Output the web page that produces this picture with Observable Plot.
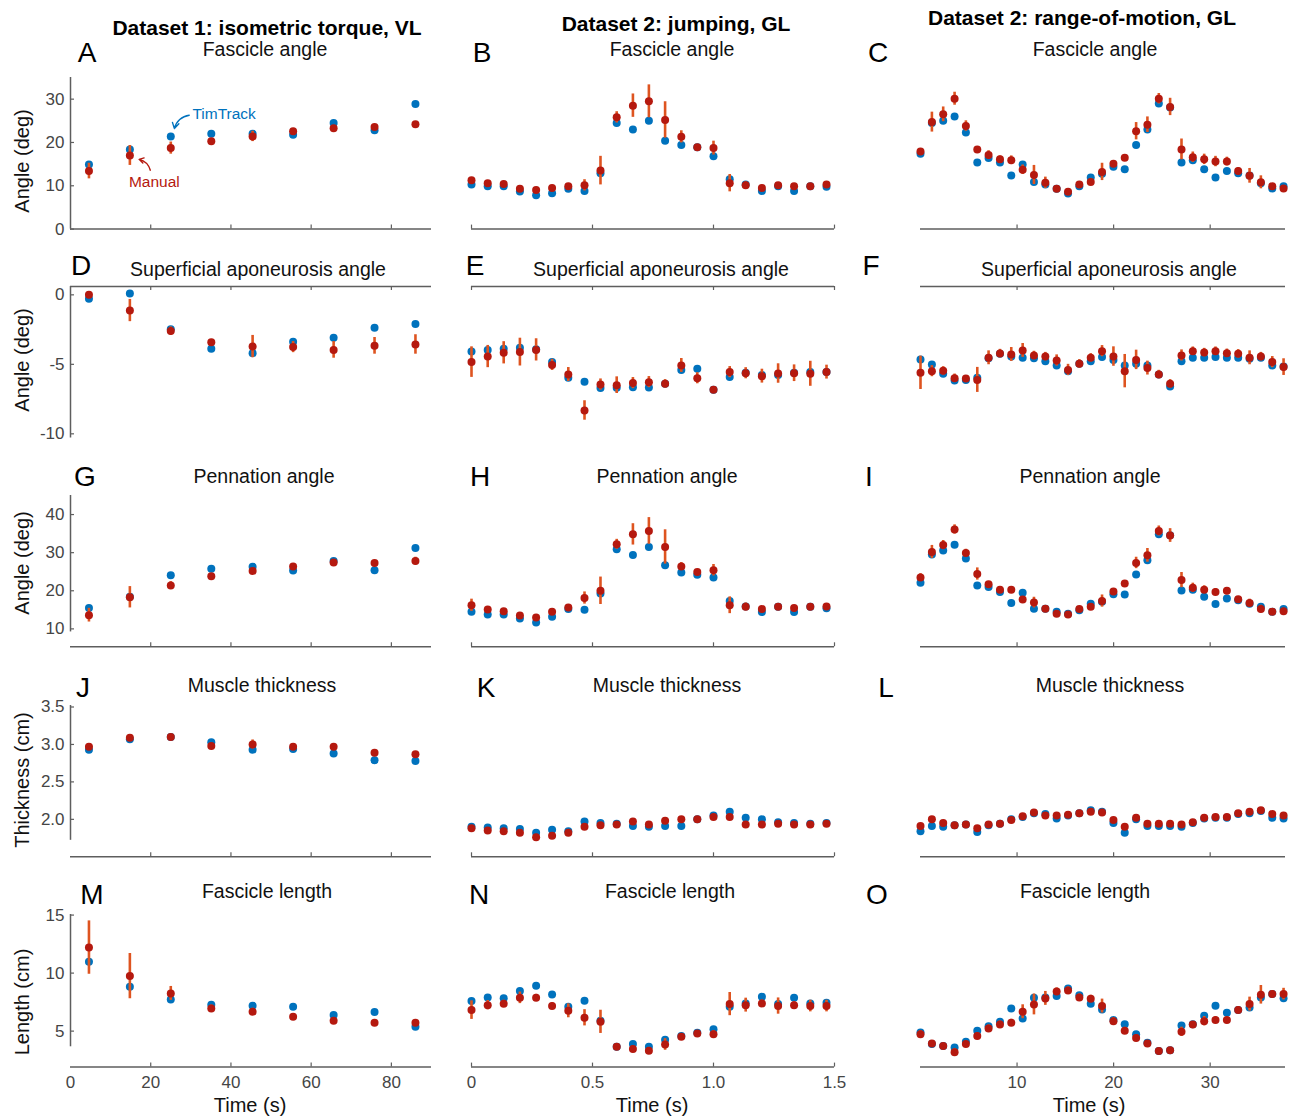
<!DOCTYPE html>
<html><head><meta charset="utf-8">
<script src="https://cdn.jsdelivr.net/npm/d3@7"></script>
<script src="https://cdn.jsdelivr.net/npm/@observablehq/plot@0.6"></script>
<style>
body{margin:0;background:#fff;font-family:"Liberation Sans",Arial,Helvetica,sans-serif;}
#fig{position:relative;width:1298px;height:1118px;overflow:hidden;background:#fff;}
.t{position:absolute;transform:translate(-50%,-50%);white-space:nowrap;color:#000;line-height:1;}
.hdr{font-weight:bold;font-size:21px;}
.sub{font-size:19.5px;color:#111;}
.let{font-size:28px;}
.yl{font-size:20px;transform:translate(-50%,-50%) rotate(-90deg);color:#111;}
.xl{font-size:20px;color:#111;}
</style></head><body><div id="fig"></div>
<script>
// ---------------- data ----------------
const timeVL = [4.6, 14.8, 25.0, 35.1, 45.4, 55.5, 65.6, 75.8, 86.0];
const timeJump = [0, 0.067, 0.133, 0.2, 0.267, 0.333, 0.4, 0.467, 0.533, 0.6, 0.667, 0.733, 0.8, 0.867, 0.933, 1.0, 1.067, 1.133, 1.2, 1.267, 1.333, 1.4, 1.467];
const timeROM = [0, 1.18, 2.35, 3.53, 4.70, 5.88, 7.05, 8.23, 9.40, 10.58, 11.75, 12.93, 14.10, 15.28, 16.45, 17.63, 18.80, 19.98, 21.15, 22.33, 23.50, 24.68, 25.85, 27.03, 28.20, 29.38, 30.55, 31.73, 32.90, 34.08, 35.25, 36.43, 37.60];

const columnTitles = ["Dataset 1: isometric torque, VL", "Dataset 2: jumping, GL", "Dataset 2: range-of-motion, GL"];
const rowTitles = ["Fascicle angle", "Superficial aponeurosis angle", "Pennation angle", "Muscle thickness", "Fascicle length"];
const rowLabels = ["Angle (deg)", "Angle (deg)", "Angle (deg)", "Thickness (cm)", "Length (cm)"];
const panelLetters = [["A","B","C"],["D","E","F"],["G","H","I"],["J","K","L"],["M","N","O"]];
const seriesNames = ["TimTrack", "Manual"];

// A: fascicle angle, VL
const A_tim = [14.9, 18.4, 21.4, 22.0, 22.0, 21.8, 24.5, 22.8, 28.9];
const A_man = [13.4, 17.0, 18.7, 20.3, 21.4, 22.6, 23.3, 23.6, 24.2];
const A_err = [1.8, 2.3, 1.4, 0.5, 1.2, 0.4, 0.6, 0.5, 0.4];
// B
const B_tim = [10.3, 9.9, 9.9, 8.7, 7.8, 8.3, 9.3, 8.8, 12.9, 24.5, 23.0, 25.0, 20.4, 19.4, 18.9, 16.8, 11.5, 10.3, 8.8, 9.9, 8.8, 9.9, 9.8];
const B_man = [11.3, 10.6, 10.4, 9.3, 9.0, 9.5, 9.9, 10.1, 13.5, 25.8, 28.5, 29.5, 25.2, 21.3, 18.9, 18.7, 10.6, 10.1, 9.5, 10.1, 9.9, 9.9, 10.3];
const B_err = [0.5, 0.4, 0.4, 0.5, 0.5, 0.5, 0.5, 1.3, 3.3, 1.3, 2.7, 3.8, 4.2, 1.4, 0.5, 1.6, 2.0, 0.8, 0.4, 0.4, 0.4, 0.3, 0.4];
// C
const C_tim = [17.4, 24.5, 25.0, 26.0, 22.3, 15.4, 16.4, 15.4, 12.4, 14.9, 10.9, 10.3, 9.3, 8.2, 9.9, 11.9, 12.8, 14.4, 13.8, 19.4, 23.0, 29.0, 28.1, 15.4, 15.9, 13.8, 11.9, 13.4, 12.9, 12.4, 10.6, 9.4, 9.9];
const C_man = [17.9, 24.7, 26.5, 30.1, 23.8, 18.4, 17.1, 16.1, 15.9, 13.7, 12.5, 10.7, 9.3, 8.6, 10.3, 10.9, 13.2, 15.1, 16.5, 22.6, 24.1, 30.1, 28.2, 18.4, 16.6, 16.1, 15.6, 15.6, 13.4, 12.3, 10.8, 9.9, 9.4];
const C_err = [0.4, 2.3, 1.7, 1.5, 1.2, 0.5, 1.0, 0.8, 1.0, 1.1, 2.2, 1.3, 0.3, 0.3, 0.4, 0.8, 2.0, 0.7, 0.5, 2.0, 1.8, 1.2, 2.0, 2.4, 1.2, 1.2, 1.2, 1.0, 0.8, 1.7, 1.5, 0.5, 0.4];
// D: superficial aponeurosis angle
const D_tim = [-0.29, 0.1, -2.47, -3.88, -4.2, -3.38, -3.09, -2.37, -2.09];
const D_man = [0.0, -1.13, -2.61, -3.41, -3.72, -3.76, -3.96, -3.67, -3.57];
const D_err = [0.2, 0.8, 0.3, 0.2, 0.8, 0.4, 0.6, 0.6, 0.7];
// E
const E_tim = [-4.08, -3.96, -3.88, -3.81, -3.91, -4.84, -5.97, -6.26, -6.71, -6.69, -6.64, -6.67, -6.40, -5.40, -5.32, -6.83, -5.92, -5.61, -5.76, -5.76, -5.61, -5.56, -5.56];
const E_man = [-4.84, -4.44, -4.17, -4.12, -3.96, -5.04, -5.73, -8.32, -6.45, -6.50, -6.35, -6.28, -6.40, -5.08, -6.0, -6.83, -5.56, -5.64, -5.85, -5.66, -5.64, -5.68, -5.56];
const E_err = [1.1, 0.8, 0.8, 1.0, 0.8, 0.4, 0.5, 0.7, 0.4, 0.6, 0.4, 0.4, 0.3, 0.5, 0.4, 0.2, 0.4, 0.4, 0.5, 0.7, 0.6, 0.9, 0.5];
// F
const F_tim = [-4.65, -5.01, -5.68, -6.16, -6.12, -5.97, -4.56, -4.24, -4.44, -4.53, -4.56, -4.77, -5.08, -5.49, -4.96, -4.77, -4.48, -4.68, -5.08, -4.96, -5.08, -5.73, -6.59, -4.77, -4.53, -4.53, -4.48, -4.53, -4.53, -4.6, -4.53, -5.08, -5.16];
const F_man = [-5.61, -5.49, -5.47, -6.0, -6.02, -6.12, -4.53, -4.22, -4.29, -4.0, -4.36, -4.44, -4.72, -5.40, -4.96, -4.53, -4.05, -4.44, -5.49, -4.68, -5.27, -5.73, -6.40, -4.36, -4.05, -4.15, -4.05, -4.2, -4.24, -4.53, -4.44, -4.84, -5.2];
const F_err = [1.2, 0.4, 0.3, 0.3, 0.2, 0.9, 0.5, 0.3, 0.5, 0.5, 0.3, 0.3, 0.4, 0.4, 0.3, 0.3, 0.4, 0.7, 1.2, 0.7, 0.5, 0.3, 0.3, 0.4, 0.3, 0.3, 0.3, 0.3, 0.3, 0.5, 0.3, 0.4, 0.6];
// G: pennation angle
const G_tim = [15.5, 18.4, 24.1, 25.8, 26.3, 25.3, 27.8, 25.4, 31.2];
const G_man = [13.6, 18.3, 21.4, 23.8, 25.2, 26.4, 27.4, 27.3, 27.8];
const G_err = [1.8, 2.8, 1.0, 0.4, 0.5, 0.4, 0.6, 0.5, 1.0];
// H
const H_tim = [14.5, 13.8, 13.8, 12.7, 11.7, 13.2, 15.2, 15.0, 19.3, 30.9, 29.4, 31.5, 26.7, 24.8, 24.2, 23.5, 17.3, 15.9, 14.4, 15.8, 14.4, 15.8, 15.4];
const H_man = [16.2, 15.1, 14.6, 13.5, 13.0, 14.5, 15.6, 18.1, 20.0, 32.2, 34.8, 35.7, 31.5, 26.4, 24.9, 25.4, 16.2, 15.8, 15.2, 15.8, 15.5, 15.8, 15.9];
const H_err = [1.6, 0.5, 0.5, 0.4, 0.4, 0.5, 0.4, 1.6, 3.6, 1.3, 2.8, 3.5, 4.5, 1.0, 0.5, 1.5, 2.2, 1.0, 0.4, 0.8, 0.4, 0.3, 0.5];
// I
const I_tim = [22.1, 29.5, 30.6, 32.1, 28.5, 21.4, 21.0, 19.7, 16.8, 19.5, 15.3, 15.3, 14.5, 14.0, 14.9, 16.6, 17.1, 19.1, 19.0, 24.3, 28.0, 34.8, 34.6, 20.1, 20.3, 18.4, 16.5, 18.0, 17.5, 16.6, 15.8, 14.5, 15.2];
const I_man = [23.5, 30.2, 32.0, 36.1, 29.9, 24.4, 21.7, 20.3, 20.3, 17.7, 16.9, 15.3, 14.0, 13.8, 15.2, 15.8, 17.3, 19.8, 21.9, 27.3, 29.3, 35.7, 34.5, 22.8, 20.8, 20.3, 19.7, 20.0, 17.8, 16.8, 15.2, 14.5, 14.6];
const I_err = [1.0, 1.7, 1.2, 1.2, 1.0, 1.6, 0.5, 0.4, 0.4, 0.6, 1.4, 0.5, 0.3, 0.3, 0.3, 0.5, 1.6, 0.8, 0.5, 1.5, 1.8, 1.3, 1.8, 2.0, 1.2, 1.0, 0.9, 0.8, 0.6, 1.0, 1.0, 0.5, 0.4];
// J: muscle thickness
const J_tim = [2.93, 3.07, 3.10, 3.03, 2.93, 2.94, 2.88, 2.79, 2.78];
const J_man = [2.97, 3.09, 3.10, 2.98, 3.00, 2.97, 2.97, 2.89, 2.87];
const J_err = [0.03, 0.02, 0.02, 0.03, 0.06, 0.03, 0.02, 0.02, 0.02];
// K
const K_tim = [1.90, 1.89, 1.88, 1.87, 1.82, 1.86, 1.84, 1.97, 1.95, 1.94, 1.91, 1.90, 1.91, 1.91, 2.00, 2.05, 2.10, 2.02, 2.00, 1.96, 1.95, 1.94, 1.95];
const K_man = [1.88, 1.85, 1.84, 1.82, 1.76, 1.78, 1.82, 1.90, 1.92, 1.93, 1.97, 1.93, 1.98, 2.00, 2.00, 2.03, 2.03, 1.93, 1.93, 1.94, 1.93, 1.93, 1.94];
const K_err = [0.02, 0.02, 0.02, 0.02, 0.03, 0.02, 0.02, 0.02, 0.02, 0.02, 0.02, 0.02, 0.02, 0.02, 0.03, 0.03, 0.02, 0.02, 0.02, 0.02, 0.02, 0.02, 0.02];
// L
const L_tim = [1.84, 1.91, 1.90, 1.92, 1.93, 1.83, 1.92, 1.94, 2.00, 2.03, 2.08, 2.07, 2.01, 2.05, 2.08, 2.12, 2.10, 1.95, 1.82, 2.00, 1.91, 1.91, 1.91, 1.90, 1.95, 2.01, 2.02, 2.02, 2.07, 2.08, 2.11, 2.02, 2.01];
const L_man = [1.91, 2.00, 1.95, 1.92, 1.93, 1.88, 1.93, 1.94, 1.99, 2.04, 2.09, 2.05, 2.05, 2.06, 2.08, 2.10, 2.09, 1.99, 1.90, 2.02, 1.94, 1.94, 1.94, 1.93, 1.96, 2.02, 2.03, 2.03, 2.08, 2.10, 2.12, 2.07, 2.05];
const L_err = [0.03, 0.02, 0.02, 0.02, 0.02, 0.02, 0.02, 0.02, 0.02, 0.02, 0.02, 0.02, 0.02, 0.02, 0.02, 0.02, 0.02, 0.02, 0.03, 0.02, 0.02, 0.02, 0.02, 0.02, 0.02, 0.02, 0.02, 0.02, 0.02, 0.02, 0.02, 0.02, 0.02];
// M: fascicle length
const M_tim = [10.98, 8.82, 7.73, 7.27, 7.18, 7.10, 6.38, 6.64, 5.37];
const M_man = [12.2, 9.74, 8.25, 6.95, 6.67, 6.24, 5.89, 5.72, 5.72];
const M_err = [2.3, 1.95, 0.6, 0.3, 0.3, 0.2, 0.2, 0.2, 0.2];
// N
const N_tim = [7.59, 7.90, 7.84, 8.45, 8.91, 8.16, 7.10, 7.61, 5.89, 3.65, 3.88, 3.65, 4.25, 4.57, 4.86, 5.17, 7.10, 7.39, 7.96, 7.33, 7.87, 7.39, 7.44];
const N_man = [6.81, 7.24, 7.36, 7.87, 7.87, 7.16, 6.75, 6.15, 5.80, 3.65, 3.45, 3.30, 3.85, 4.51, 4.80, 4.74, 7.33, 7.24, 7.39, 7.16, 7.24, 7.16, 7.16];
const N_err = [0.8, 0.4, 0.3, 0.5, 0.3, 0.3, 0.6, 0.7, 1.0, 0.2, 0.3, 0.3, 0.5, 0.2, 0.2, 0.3, 1.0, 0.6, 0.3, 0.7, 0.3, 0.5, 0.5];
// O
const O_tim = [4.89, 3.88, 3.71, 3.59, 4.08, 5.03, 5.43, 5.80, 6.95, 6.09, 7.87, 7.90, 8.02, 8.68, 8.10, 7.36, 6.87, 5.95, 5.60, 4.74, 3.99, 3.28, 3.36, 5.49, 5.60, 6.32, 7.18, 6.58, 6.81, 7.04, 7.90, 8.19, 7.84];
const O_man = [4.74, 3.94, 3.71, 3.19, 3.88, 4.57, 5.23, 5.57, 5.72, 6.67, 7.30, 7.82, 8.42, 8.51, 7.90, 7.79, 7.16, 5.86, 5.03, 4.40, 3.94, 3.28, 3.36, 4.94, 5.57, 5.86, 5.95, 5.95, 6.81, 7.33, 8.13, 8.19, 8.19];
const O_err = [0.3, 0.2, 0.2, 0.3, 0.2, 0.3, 0.3, 0.3, 0.3, 0.6, 0.9, 0.6, 0.3, 0.3, 0.3, 0.3, 0.6, 0.3, 0.3, 0.3, 0.2, 0.2, 0.2, 0.4, 0.2, 0.4, 0.3, 0.3, 0.3, 0.6, 0.8, 0.3, 0.5];

// tick values
const xTicksVL = [0, 20, 40, 60, 80];
const xTicksJump = [0, 0.5, 1.0, 1.5];
const xTicksROM = [10, 20, 30];
const yTicksRows = [[0, 10, 20, 30], [-10, -5, 0], [10, 20, 30, 40], [2.0, 2.5, 3.0, 3.5], [5, 10, 15]];

// annotation (panel A)
const annoLabels = [{t: 38.3, v: 26.6, label: "TimTrack"}, {t: 20.9, v: 10.9, label: "Manual"}];
const annoArrowTim = [{t1: 29.6, v1: 26.3, t2: 25.9, v2: 23.2}];
const annoArrowMan = [{t1: 19.9, v1: 13.6, t2: 17.1, v2: 16.1}];

// ---------------- layout / style ----------------
const BLUE = "#0072BD", RED = "#B5190F", ERR = "#DE5420", AX = "#5e5e5e", TXT = "#454545";
const FONT = '"Liberation Sans", Arial, Helvetica, sans-serif';

const seriesByPanel = [
  [[A_tim, A_man, A_err], [B_tim, B_man, B_err], [C_tim, C_man, C_err]],
  [[D_tim, D_man, D_err], [E_tim, E_man, E_err], [F_tim, F_man, F_err]],
  [[G_tim, G_man, G_err], [H_tim, H_man, H_err], [I_tim, I_man, I_err]],
  [[J_tim, J_man, J_err], [K_tim, K_man, K_err], [L_tim, L_man, L_err]],
  [[M_tim, M_man, M_err], [N_tim, N_man, N_err], [O_tim, O_man, O_err]]
];

const cols = [
  {x0: 70, x1: 431, domain: [0, 90], t: timeVL, ticks: [20, 40, 60, 80], labels: xTicksVL, fmt: d => String(d), titleX: 267, titleY: 27, letterX: [87, 81, 85, 83, 92], subX: [265, 258, 264, 262, 267], xlabX: 250},
  {x0: 471, x1: 834, domain: [0, 1.5], t: timeJump, ticks: xTicksJump, labels: xTicksJump, fmt: d => d === 0 ? "0" : d3.format(".1f")(d), titleX: 676, titleY: 23, letterX: [482, 475, 480, 486, 479], subX: [672, 661, 667, 667, 670], xlabX: 652},
  {x0: 920, x1: 1285, domain: [0, 37.8], t: timeROM, ticks: xTicksROM, labels: xTicksROM, fmt: d => String(d), titleX: 1082, titleY: 17, letterX: [878, 871, 869, 886, 877], subX: [1095, 1109, 1090, 1110, 1085], xlabX: 1089}
];
const rows = [
  {top: 76.7, bot: 228.3, domain: [0, 35], spine: [0, 35], axisTop: false, fmt: d => String(d), letterY: 53, subY: 50, ylabY: 161},
  {top: 286, bot: 437.5, domain: [-10.3, 0.6], spine: [-10.3, 0.6], axisTop: true, fmt: d => String(d), letterY: 266, subY: 270, ylabY: 360},
  {top: 495.3, bot: 646.6, domain: [5.3, 45], spine: [9.2, 45], axisTop: false, fmt: d => String(d), letterY: 477, subY: 477, ylabY: 563},
  {top: 705.2, bot: 856.5, domain: [1.5, 3.52], spine: [1.72, 3.52], axisTop: false, fmt: d3.format(".1f"), letterY: 688, subY: 686, ylabY: 780},
  {top: 914.4, bot: 1067, domain: [1.9, 15.05], spine: [3.65, 15.05], axisTop: false, fmt: d => String(d), letterY: 895, subY: 892, ylabY: 1002}
];

const fig = document.getElementById("fig");
function addText(cls, txt, x, y, color) {
  const el = document.createElement("div");
  el.className = "t " + cls;
  el.textContent = txt;
  el.style.left = x + "px";
  el.style.top = y + "px";
  if (color) el.style.color = color;
  fig.appendChild(el);
}

const mL = 62, mR = 12, mT = 12, mB = 40;
rows.forEach((row, r) => {
  cols.forEach((col, c) => {
    const [tim, man, err] = seriesByPanel[r][c];
    const pw = col.x1 - col.x0, ph = row.bot - row.top;
    const timData = col.t.map((t, i) => ({t, v: tim[i]}));
    const manData = col.t.map((t, i) => ({t, v: man[i], e: err[i]}));
    const axisVal = row.axisTop ? row.domain[1] : row.domain[0];
    const marks = [
      Plot.ruleY([axisVal], {stroke: AX, strokeWidth: 1.5}),
      Plot.tickX(col.ticks, Object.assign({x: d => d, stroke: AX, strokeWidth: 1.2}, row.axisTop ? {insetBottom: ph - 4} : {insetTop: ph - 4}))
    ];
    if (c === 0) {
      marks.push(Plot.ruleX([col.domain[0]], {y1: row.spine[0], y2: row.spine[1], stroke: AX, strokeWidth: 1.5}));
      marks.push(Plot.tickY(yTicksRows[r], {y: d => d, insetRight: pw - 4, stroke: AX, strokeWidth: 1.2}));
      marks.push(Plot.axisY({ticks: yTicksRows[r], tickSize: 0, tickPadding: 6, tickFormat: row.fmt, fontSize: 17, fill: TXT, label: null}));
    }
    if (r === rows.length - 1) {
      marks.push(Plot.axisX({ticks: col.labels, tickSize: 0, tickPadding: 9, tickFormat: col.fmt, fontSize: 17, fill: TXT, label: null}));
    }
    marks.push(
      Plot.dot(timData, {x: "t", y: "v", r: 4, fill: BLUE}),
      Plot.ruleX(manData, {x: "t", y1: d => d.v - d.e, y2: d => d.v + d.e, stroke: ERR, strokeWidth: 2.6}),
      Plot.dot(manData, {x: "t", y: "v", r: 4, fill: RED})
    );
    if (r === 0 && c === 0) {
      marks.push(
        Plot.arrow(annoArrowTim, {x1: "t1", y1: "v1", x2: "t2", y2: "v2", bend: -35, stroke: BLUE, strokeWidth: 1.4, headLength: 7}),
        Plot.arrow(annoArrowMan, {x1: "t1", y1: "v1", x2: "t2", y2: "v2", bend: -30, stroke: RED, strokeWidth: 1.4, headLength: 7}),
        Plot.text(annoLabels.slice(0, 1), {x: "t", y: "v", text: "label", fill: BLUE, fontSize: 15.5}),
        Plot.text(annoLabels.slice(1), {x: "t", y: "v", text: "label", fill: RED, fontSize: 15.5})
      );
    }
    const svg = Plot.plot({
      width: pw + mL + mR, height: ph + mT + mB,
      marginLeft: mL, marginRight: mR, marginTop: mT, marginBottom: mB,
      x: {domain: col.domain, axis: null},
      y: {domain: row.domain, axis: null},
      style: {background: "transparent", overflow: "visible", maxWidth: "none", fontFamily: FONT},
      marks
    });
    svg.style.position = "absolute";
    svg.style.left = (col.x0 - mL) + "px";
    svg.style.top = (row.top - mT) + "px";
    fig.appendChild(svg);

    addText("let", panelLetters[r][c], col.letterX[r], row.letterY);
    addText("sub", rowTitles[r], col.subX[r], row.subY);
  });
  addText("yl", rowLabels[r], 22, row.ylabY);
});
cols.forEach((col, c) => {
  addText("hdr", columnTitles[c], col.titleX, col.titleY);
  addText("xl", "Time (s)", col.xlabX, 1105);
});
</script></body></html>
